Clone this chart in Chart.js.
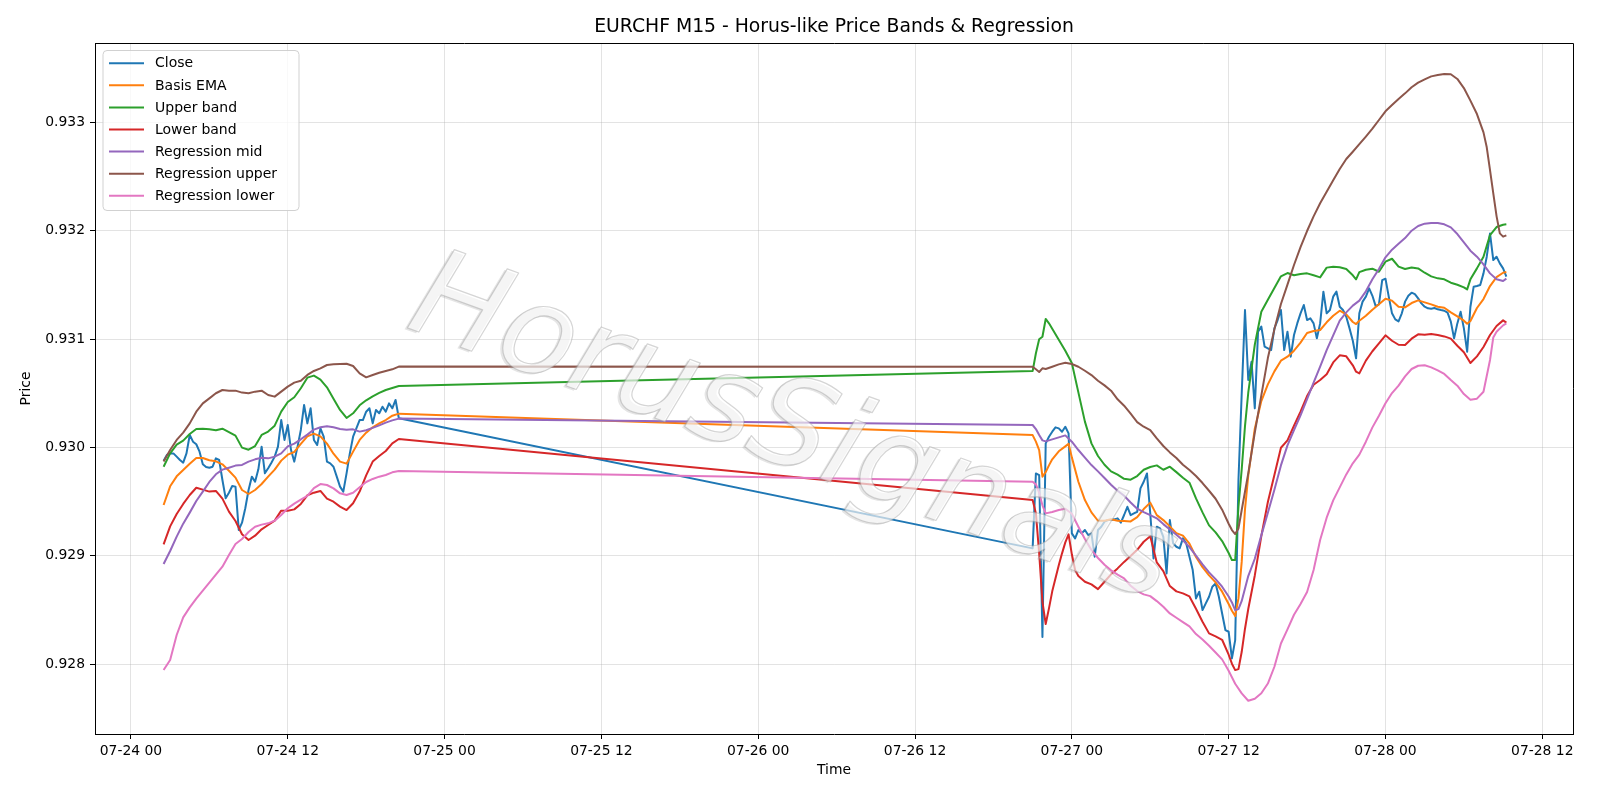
<!DOCTYPE html>
<html>
<head>
<meta charset="utf-8">
<script src="https://cdn.jsdelivr.net/npm/chart.js@4.4.1/dist/chart.umd.min.js"></script>
<style>
html,body{margin:0;padding:0;background:#ffffff;}
#wrap{width:1600px;height:800px;position:relative;}
canvas{display:block;}
</style>
</head>
<body>
<div id="wrap"><canvas id="c" width="1600" height="800"></canvas></div>
<script>
// ---- Data (time in hours since 07-24 00:00) ----
const baseMonth = '07';
const baseDay = 24;

const xTickHours = [0, 12, 24, 36, 48, 60, 72, 84, 96, 108];
const yTickValues = [0.928, 0.929, 0.930, 0.931, 0.932, 0.933];

// Close: M15 bars, two sessions
const closeSeg1Start = 2.5;   // 07-24 02:30
const closeSeg1 = [
  0.929878, 0.929930, 0.929945, 0.929945, 0.929915, 0.929884, 0.929859, 0.929945, 0.930115, 0.930053, 0.930029, 0.929961,
  0.929844, 0.929819, 0.929813, 0.929822, 0.929899, 0.929884, 0.929699, 0.929530, 0.929582, 0.929644, 0.929638, 0.929238,
  0.929305, 0.929438, 0.929607, 0.929730, 0.929684, 0.929798, 0.930007, 0.929761, 0.929807, 0.929859, 0.929915, 0.930007,
  0.930253,
  0.930069, 0.930207, 0.929976, 0.929869, 0.930007, 0.930161, 0.930392, 0.930222, 0.930361, 0.930069, 0.930022, 0.930176,
  0.930099, 0.929869, 0.929853, 0.929822, 0.929730, 0.929638, 0.929592, 0.929761, 0.929945, 0.930099, 0.930176, 0.930253,
  0.930253, 0.930330, 0.930361, 0.930222, 0.930346, 0.930315, 0.930376, 0.930330, 0.930407, 0.930361, 0.930438, 0.930269
];
const closeSeg2Start = 69;    // 07-26 21:00
const closeSeg2 = [
  0.929068, 0.929760, 0.929745, 0.928249, 0.930037, 0.930099, 0.930145, 0.930185, 0.930176, 0.930145, 0.930191, 0.930130,
  0.929206, 0.929160, 0.929237, 0.929206, 0.929237, 0.929191, 0.929206, 0.928991, 0.929237, 0.929268, 0.929314, 0.929329,
  0.929329, 0.929336, 0.929345, 0.929305, 0.929376, 0.929452, 0.929375, 0.929391, 0.929406, 0.929622, 0.929683, 0.929760,
  0.929391, 0.928975, 0.929268, 0.929252, 0.929175, 0.928837, 0.929329, 0.929114, 0.929083, 0.929068, 0.929160, 0.929114,
  0.928991, 0.928868, 0.928606, 0.928668, 0.928498, 0.928560, 0.928621, 0.928714, 0.928744, 0.928621, 0.928467, 0.928314,
  0.928298, 0.928052, 0.928221, 0.929700, 0.930500, 0.931269, 0.930622, 0.930792, 0.930361, 0.931069, 0.931115, 0.930930,
  0.930915, 0.930899, 0.931099, 0.931176, 0.931269, 0.930899, 0.931069, 0.930838, 0.931038, 0.931145, 0.931238, 0.931315,
  0.931176, 0.931192, 0.931145, 0.931007, 0.931145, 0.931438, 0.931238, 0.931269, 0.931392, 0.931438, 0.931299, 0.931269,
  0.931207, 0.931099, 0.930985, 0.930822, 0.931238, 0.931346, 0.931392, 0.931469, 0.931400, 0.931305, 0.931321, 0.931545,
  0.931558, 0.931392, 0.931238, 0.931182, 0.931164, 0.931238, 0.931346, 0.931401, 0.931429, 0.931416, 0.931376, 0.931330,
  0.931299, 0.931284, 0.931281, 0.931287, 0.931275, 0.931268, 0.931262, 0.931244, 0.931161, 0.931007, 0.931145, 0.931253,
  0.931099, 0.930884, 0.931299, 0.931484, 0.931490, 0.931499, 0.931607, 0.931761, 0.931976, 0.931730, 0.931761, 0.931699,
  0.931653, 0.931576
];

// Band / regression sample times (hours since 07-24 00:00)
const bandHours = [
  2.5, 3, 3.5, 4, 4.5, 5, 5.5, 6, 6.5, 7,
  7.5, 8, 8.5, 9, 9.5, 10, 10.5, 11, 11.5, 12,
  12.5, 13, 13.5, 14, 14.5, 15, 15.5, 16, 16.5, 17,
  17.5, 18, 18.5, 19, 19.5, 20, 20.5,
  69, 69.25, 69.5, 69.75, 70, 70.25, 70.5, 70.75, 71, 71.25, 71.5, 71.75,
  72, 72.25, 72.5, 73, 73.5, 74, 74.5, 75, 75.5, 76,
  76.5, 77, 77.5, 78, 78.5, 79, 79.5, 80, 80.5, 81,
  81.5, 82, 82.5, 83, 83.5, 84, 84.25, 84.5, 84.75, 85,
  85.25, 85.5, 86, 86.5, 87, 87.5, 88, 88.5, 89, 89.5,
  90, 90.5, 91, 91.5, 92, 92.5, 93, 93.5, 93.75, 94,
  94.5, 95, 95.5, 96, 96.5, 97, 97.5, 98, 98.5, 99,
  99.5, 100, 100.5, 101, 101.5, 102, 102.25, 102.5, 103, 103.5,
  103.75, 104, 104.25, 104.5, 104.75, 105, 105.25
];

const basisEMA = [
  0.929468, 0.929641, 0.929733, 0.929792, 0.929850, 0.929902, 0.929902, 0.929881, 0.929872, 0.929844,
  0.929785, 0.929721, 0.929607, 0.929570, 0.929607, 0.929662, 0.929730, 0.929795, 0.929878, 0.929933,
  0.929958, 0.930032, 0.930102, 0.930127, 0.930102, 0.930035, 0.929942, 0.929869, 0.929850, 0.929961,
  0.930069, 0.930136, 0.930186, 0.930222, 0.930253, 0.930293, 0.930312,
  0.930114, 0.930053, 0.929976, 0.929730, 0.929773, 0.929834, 0.929890, null, 0.929964, null, 0.930010, 0.930034,
  0.929908, null, 0.929683, 0.929514, 0.929400, 0.929323, 0.929323, 0.929336, 0.929323, 0.929320,
  0.929317, 0.929357, 0.929431, 0.929490, 0.929375, 0.929329, 0.929271, 0.929209, 0.929185, 0.929111,
  0.928988, 0.928895, 0.928818, 0.928754, 0.928668, 0.928554, 0.928492, 0.928443, 0.928606, 0.928945,
  0.929428, 0.929739, 0.930173, 0.930428, 0.930582, 0.930702, 0.930801, 0.930838, 0.930893, 0.930967,
  0.931056, 0.931075, 0.931084, 0.931155, 0.931216, 0.931262, 0.931229, 0.931158, 0.931139, 0.931170,
  0.931216, 0.931272, 0.931321, 0.931373, 0.931355, 0.931299, 0.931293, 0.931333, 0.931358, 0.931339,
  0.931321, 0.931299, 0.931290, 0.931247, 0.931210, 0.931170, 0.931142, 0.931167, 0.931287, 0.931370,
  null, 0.931490, null, 0.931573, null, 0.931613, 0.931619
];

const upperBand = [
  0.929822, 0.929945, 0.930026, 0.930063, 0.930124, 0.930170, 0.930173, 0.930167, 0.930158, 0.930173,
  0.930142, 0.930109, 0.929998, 0.929979, 0.930013, 0.930115, 0.930146, 0.930201, 0.930330, 0.930419,
  0.930463, 0.930546, 0.930644, 0.930663, 0.930626, 0.930555, 0.930450, 0.930346, 0.930272, 0.930315,
  0.930389, 0.930435, 0.930472, 0.930503, 0.930530, 0.930549, 0.930567,
  0.930705, 0.930869, 0.930998, 0.931022, 0.931186, 0.931146, 0.931096, null, 0.930995, null, 0.930893, null,
  0.930779, null, 0.930508, 0.930238, 0.930037, 0.929921, 0.929840, 0.929779, 0.929748, 0.929710,
  0.929702, 0.929736, 0.929794, 0.929819, 0.929834, 0.929794, 0.929822, 0.929772, 0.929720, 0.929674,
  0.929529, 0.929400, 0.929280, 0.929215, 0.929135, 0.929025, 0.928960, 0.928960, 0.929452, 0.929800,
  0.930197, 0.930505, 0.930948, 0.931253, 0.931364, 0.931472, 0.931580, 0.931610, 0.931589, 0.931601,
  0.931607, 0.931589, 0.931570, 0.931660, 0.931669, 0.931663, 0.931647, 0.931589, 0.931552, 0.931619,
  0.931641, 0.931650, 0.931622, 0.931715, 0.931742, 0.931669, 0.931647, 0.931662, 0.931653, 0.931613,
  0.931579, 0.931561, 0.931552, 0.931521, 0.931502, 0.931478, 0.931459, 0.931552, 0.931653, 0.931761,
  null, 0.931961, null, 0.932035, null, 0.932056, 0.932060
];

const lowerBand = [
  0.929105, 0.929271, 0.929385, 0.929478, 0.929561, 0.929628, 0.929610, 0.929592, 0.929598, 0.929527,
  0.929407, 0.929321, 0.929198, 0.929145, 0.929185, 0.929244, 0.929284, 0.929324, 0.929416, 0.929416,
  0.929428, 0.929478, 0.929558, 0.929582, 0.929598, 0.929527, 0.929499, 0.929453, 0.929422, 0.929484,
  0.929592, 0.929742, 0.929869, 0.929921, 0.929967, 0.930038, 0.930078,
  0.929514, 0.929391, 0.929022, 0.928575, 0.928369, 0.928514, 0.928671, 0.928791, 0.928911, 0.929022, 0.929123, 0.929197,
  0.929013, 0.928868, 0.928812, 0.928760, 0.928735, 0.928692, 0.928760, 0.928828, 0.928883, 0.928943,
  0.928997, 0.929055, 0.929129, 0.929180, 0.928938, 0.928858, 0.928720, 0.928671, 0.928652, 0.928624,
  0.928510, 0.928390, 0.928283, 0.928255, 0.928224, 0.928086, 0.928003, 0.927944, 0.927953, 0.928113,
  0.928326, 0.928508, 0.928818, 0.929182, 0.929496, 0.929745, 0.929997, 0.930065, 0.930200, 0.930330,
  0.930474, 0.930579, 0.930622, 0.930675, 0.930785, 0.930850, 0.930841, 0.930758, 0.930699, 0.930684,
  0.930801, 0.930888, 0.930961, 0.931035, 0.930985, 0.930948, 0.930945, 0.931004, 0.931044, 0.931041,
  0.931047, 0.931038, 0.931025, 0.931004, 0.930939, 0.930878, null, 0.930779, 0.930841, 0.930927,
  null, 0.931038, null, 0.931121, null, 0.931173, 0.931152
];

const regressionMid = [
  0.928924, 0.929044, 0.929176, 0.929296, 0.929398, 0.929505, 0.929592, 0.929681, 0.929752, 0.929795,
  0.929813, 0.929832, 0.929838, 0.929869, 0.929890, 0.929905, 0.929899, 0.929915, 0.929945, 0.930010,
  0.930035, 0.930075, 0.930118, 0.930164, 0.930186, 0.930195, 0.930186, 0.930170, 0.930164, 0.930167,
  0.930146, 0.930158, 0.930180, 0.930204, 0.930229, 0.930250, 0.930266,
  0.930207, 0.930170, 0.930114, 0.930065, 0.930056, null, 0.930074, null, 0.930093, null, 0.930111, null,
  0.930053, null, 0.929976, 0.929905, 0.929837, 0.929779, 0.929717, 0.929656, 0.929600, 0.929554,
  0.929492, 0.929434, 0.929403, 0.929375, 0.929345, 0.929292, 0.929243, 0.929194, 0.929142, 0.929080,
  0.929000, 0.928920, 0.928846, 0.928784, 0.928714, 0.928624, 0.928569, 0.928498, 0.928507, 0.928583,
  null, 0.928812, 0.928972, 0.929188, 0.929397, 0.929610, 0.929834, 0.930019, 0.930160, 0.930296,
  0.930447, 0.930598, 0.930745, 0.930899, 0.931035, 0.931170, 0.931247, 0.931309, null, 0.931355,
  0.931441, 0.931552, 0.931647, 0.931755, 0.931826, 0.931881, 0.931933, 0.932001, 0.932044, 0.932066,
  0.932072, 0.932072, 0.932060, 0.932032, 0.931970, 0.931893, null, 0.931816, 0.931761, 0.931690,
  null, 0.931607, null, 0.931552, null, 0.931536, 0.931558
];

const regressionUpper = [
  0.929869, 0.929976, 0.930069, 0.930136, 0.930222, 0.930330, 0.930407, 0.930453, 0.930500, 0.930530,
  0.930524, 0.930524, 0.930506, 0.930500, 0.930515, 0.930524, 0.930484, 0.930469, 0.930515, 0.930561,
  0.930598, 0.930616, 0.930669, 0.930706, 0.930730, 0.930761, 0.930767, 0.930770, 0.930773, 0.930752,
  0.930684, 0.930647, 0.930669, 0.930690, 0.930706, 0.930721, 0.930746,
  0.930745, 0.930721, 0.930696, 0.930730, 0.930724, null, 0.930745, null, 0.930767, null, 0.930782, null,
  0.930770, null, 0.930745, 0.930708, 0.930668, 0.930616, 0.930573, 0.930524, 0.930444, 0.930385,
  0.930311, 0.930234, 0.930191, 0.930160, 0.930083, 0.930013, 0.929954, 0.929902, 0.929840, 0.929791,
  0.929736, 0.929671, 0.929600, 0.929526, 0.929425, 0.929295, 0.929237, 0.929200, 0.929252, 0.929422,
  null, 0.929760, 0.930136, 0.930481, 0.930825, 0.931090, 0.931324, 0.931503, 0.931684, 0.931850,
  0.931998, 0.932133, 0.932254, 0.932361, 0.932466, 0.932571, 0.932663, 0.932730, null, 0.932800,
  0.932870, 0.932943, 0.933023, 0.933103, 0.933161, 0.933217, 0.933269, 0.933325, 0.933368, 0.933398,
  0.933426, 0.933438, 0.933448, 0.933445, 0.933402, 0.933318, null, 0.933202, 0.933078, 0.932909,
  0.932771, 0.932561, 0.932346, 0.932136, 0.931976, 0.931946, 0.931958
];

const regressionLower = [
  0.927945, 0.928037, 0.928268, 0.928431, 0.928523, 0.928604, 0.928677, 0.928751, 0.928825, 0.928899,
  0.929007, 0.929108, 0.929154, 0.929219, 0.929268, 0.929287, 0.929299, 0.929324, 0.929376, 0.929438,
  0.929481, 0.929518, 0.929552, 0.929625, 0.929662, 0.929653, 0.929622, 0.929576, 0.929561, 0.929582,
  0.929632, 0.929681, 0.929709, 0.929730, 0.929745, 0.929770, 0.929782,
  0.929683, 0.929659, 0.929582, 0.929465, 0.929391, null, 0.929403, null, 0.929422, null, 0.929434, null,
  0.929388, null, 0.929268, 0.929154, 0.929053, 0.928979, 0.928917, 0.928865, 0.928825, 0.928790,
  0.928723, 0.928674, 0.928643, 0.928627, 0.928581, 0.928529, 0.928467, 0.928427, 0.928387, 0.928347,
  0.928277, 0.928227, 0.928169, 0.928107, 0.928043, 0.927938, null, 0.927818, null, 0.927729,
  null, 0.927661, 0.927680, 0.927730, 0.927820, 0.927975, 0.928190, 0.928320, 0.928455, 0.928554,
  0.928665, 0.928868, 0.929145, 0.929351, 0.929511, 0.929631, 0.929751, 0.929853, null, 0.929933,
  0.930053, 0.930185, 0.930293, 0.930407, 0.930502, 0.930570, 0.930656, 0.930724, 0.930754, 0.930758,
  0.930739, 0.930711, 0.930678, 0.930622, 0.930570, 0.930493, null, 0.930440, 0.930450, 0.930514,
  null, 0.930807, 0.931016, 0.931068, null, 0.931127, 0.931145
];

// ---- Build chart ----
const FONT = '"DejaVu Sans", "Liberation Sans", sans-serif';
const closeData = closeSeg1.map((v, i) => ({x: closeSeg1Start + i * 0.25, y: v}))
  .concat(closeSeg2.map((v, i) => ({x: closeSeg2Start + i * 0.25, y: v})));
const bandData = arr => bandHours.map((h, i) => ({x: h, y: arr[i]}));

const seriesDefs = [
  {label: 'Close', data: closeData, color: '#1f77b4'},
  {label: 'Basis EMA', data: bandData(basisEMA), color: '#ff7f0e'},
  {label: 'Upper band', data: bandData(upperBand), color: '#2ca02c'},
  {label: 'Lower band', data: bandData(lowerBand), color: '#d62728'},
  {label: 'Regression mid', data: bandData(regressionMid), color: '#9467bd'},
  {label: 'Regression upper', data: bandData(regressionUpper), color: '#8c564b'},
  {label: 'Regression lower', data: bandData(regressionLower), color: '#e377c2'}
];

function hourLabel(h) {
  const day = baseDay + Math.floor(h / 24);
  const hh = String(h % 24).padStart(2, '0');
  return baseMonth + '-' + String(day).padStart(2, '0') + ' ' + hh;
}

const decorPlugin = {
  id: 'decor',
  afterDatasetsDraw(chart) {
    const ctx = chart.ctx;
    const a = chart.chartArea;
    // watermark
    ctx.save();
    ctx.beginPath();
    ctx.rect(a.left, a.top, a.right - a.left, a.bottom - a.top);
    ctx.clip();
    ctx.translate(792, 434);
    ctx.rotate(20 * Math.PI / 180);
    ctx.font = 'italic 123px ' + FONT;
    ctx.textAlign = 'center';
    ctx.textBaseline = 'middle';
    ctx.lineJoin = 'round';
    ctx.fillStyle = 'rgba(160,160,160,0.28)';
    ctx.fillText('HorusSignals', -2, 2);
    ctx.fillStyle = 'rgba(255,255,255,0.6)';
    ctx.fillText('HorusSignals', 0, 0);
    ctx.strokeStyle = 'rgba(150,150,150,0.4)';
    ctx.lineWidth = 1.2;
    ctx.strokeText('HorusSignals', 0, 0);
    ctx.restore();
  },
  afterDraw(chart) {
    const ctx = chart.ctx;
    const a = chart.chartArea;
    ctx.save();
    // top & right spines
    ctx.strokeStyle = '#000';
    ctx.lineWidth = 1;
    ctx.beginPath();
    ctx.moveTo(a.left, a.top + 0.5);
    ctx.lineTo(a.right + 0.5, a.top + 0.5);
    ctx.lineTo(a.right + 0.5, a.bottom);
    ctx.stroke();
    // title
    ctx.fillStyle = '#000';
    ctx.font = '18.8px ' + FONT;
    ctx.textAlign = 'center';
    ctx.textBaseline = 'alphabetic';
    ctx.fillText('EURCHF M15 - Horus-like Price Bands & Regression', (a.left + a.right) / 2, 32);
    // axis titles
    ctx.font = '13.9px ' + FONT;
    ctx.textBaseline = 'middle';
    ctx.fillText('Time', (a.left + a.right) / 2, 770);
    ctx.save();
    ctx.translate(26, (a.top + a.bottom) / 2);
    ctx.rotate(-Math.PI / 2);
    ctx.fillText('Price', 0, 0);
    ctx.restore();
    // legend
    const lx = 103, ly = 50.5, lw = 196, lh = 160, r = 4;
    ctx.beginPath();
    ctx.moveTo(lx + r, ly);
    ctx.arcTo(lx + lw, ly, lx + lw, ly + lh, r);
    ctx.arcTo(lx + lw, ly + lh, lx, ly + lh, r);
    ctx.arcTo(lx, ly + lh, lx, ly, r);
    ctx.arcTo(lx, ly, lx + lw, ly, r);
    ctx.closePath();
    ctx.fillStyle = 'rgba(255,255,255,0.8)';
    ctx.fill();
    ctx.strokeStyle = 'rgba(204,204,204,0.9)';
    ctx.lineWidth = 1;
    ctx.stroke();
    ctx.font = '14px ' + FONT;
    ctx.textAlign = 'left';
    ctx.textBaseline = 'middle';
    seriesDefs.forEach((s, i) => {
      const y = 63.3 + i * 22.07;
      ctx.strokeStyle = s.color;
      ctx.lineWidth = 2;
      ctx.beginPath();
      ctx.moveTo(109, y);
      ctx.lineTo(144, y);
      ctx.stroke();
      ctx.fillStyle = '#000';
      ctx.fillText(s.label, 155, y + 0.5);
    });
    ctx.restore();
  }
};

const chart = new Chart(document.getElementById('c'), {
  type: 'line',
  data: {
    datasets: seriesDefs.map((s, i) => ({
      label: s.label,
      data: s.data,
      borderColor: s.color,
      backgroundColor: s.color,
      borderWidth: 2,
      pointRadius: 0,
      pointHoverRadius: 0,
      tension: 0,
      spanGaps: true,
      fill: false,
      order: seriesDefs.length - i,
      borderJoinStyle: 'round',
      borderCapStyle: 'butt'
    }))
  },
  options: {
    responsive: false,
    animation: false,
    devicePixelRatio: 1,
    events: [],
    layout: {padding: {left: 0, top: 43, right: 27, bottom: 0}},
    plugins: {legend: {display: false}, title: {display: false}, tooltip: {enabled: false}},
    scales: {
      x: {
        type: 'linear',
        min: -2.75,
        max: 110.35,
        afterBuildTicks: s => { s.ticks = xTickHours.map(v => ({value: v})); },
        afterFit: s => { s.height = 66; s.paddingLeft = 0; s.paddingRight = 0; },
        ticks: {
          callback: v => hourLabel(v),
          color: '#000',
          font: {family: FONT, size: 13.9},
          padding: 4,
          maxRotation: 0,
          autoSkip: false
        },
        grid: {color: 'rgba(176,176,176,0.35)', lineWidth: 1, drawTicks: true, tickLength: 5, tickColor: '#000', tickWidth: 1},
        border: {display: true, color: '#000', width: 1}
      },
      y: {
        type: 'linear',
        min: 0.927354,
        max: 0.933734,
        afterBuildTicks: s => { s.ticks = yTickValues.map(v => ({value: v})); },
        afterFit: s => { s.width = 95; s.paddingTop = 0; s.paddingBottom = 0; },
        ticks: {
          callback: v => v.toFixed(3),
          color: '#000',
          font: {family: FONT, size: 13.9},
          padding: 5
        },
        grid: {color: 'rgba(176,176,176,0.35)', lineWidth: 1, drawTicks: true, tickLength: 5, tickColor: '#000', tickWidth: 1},
        border: {display: true, color: '#000', width: 1}
      }
    }
  },
  plugins: [decorPlugin]
});
</script>
</body>
</html>
